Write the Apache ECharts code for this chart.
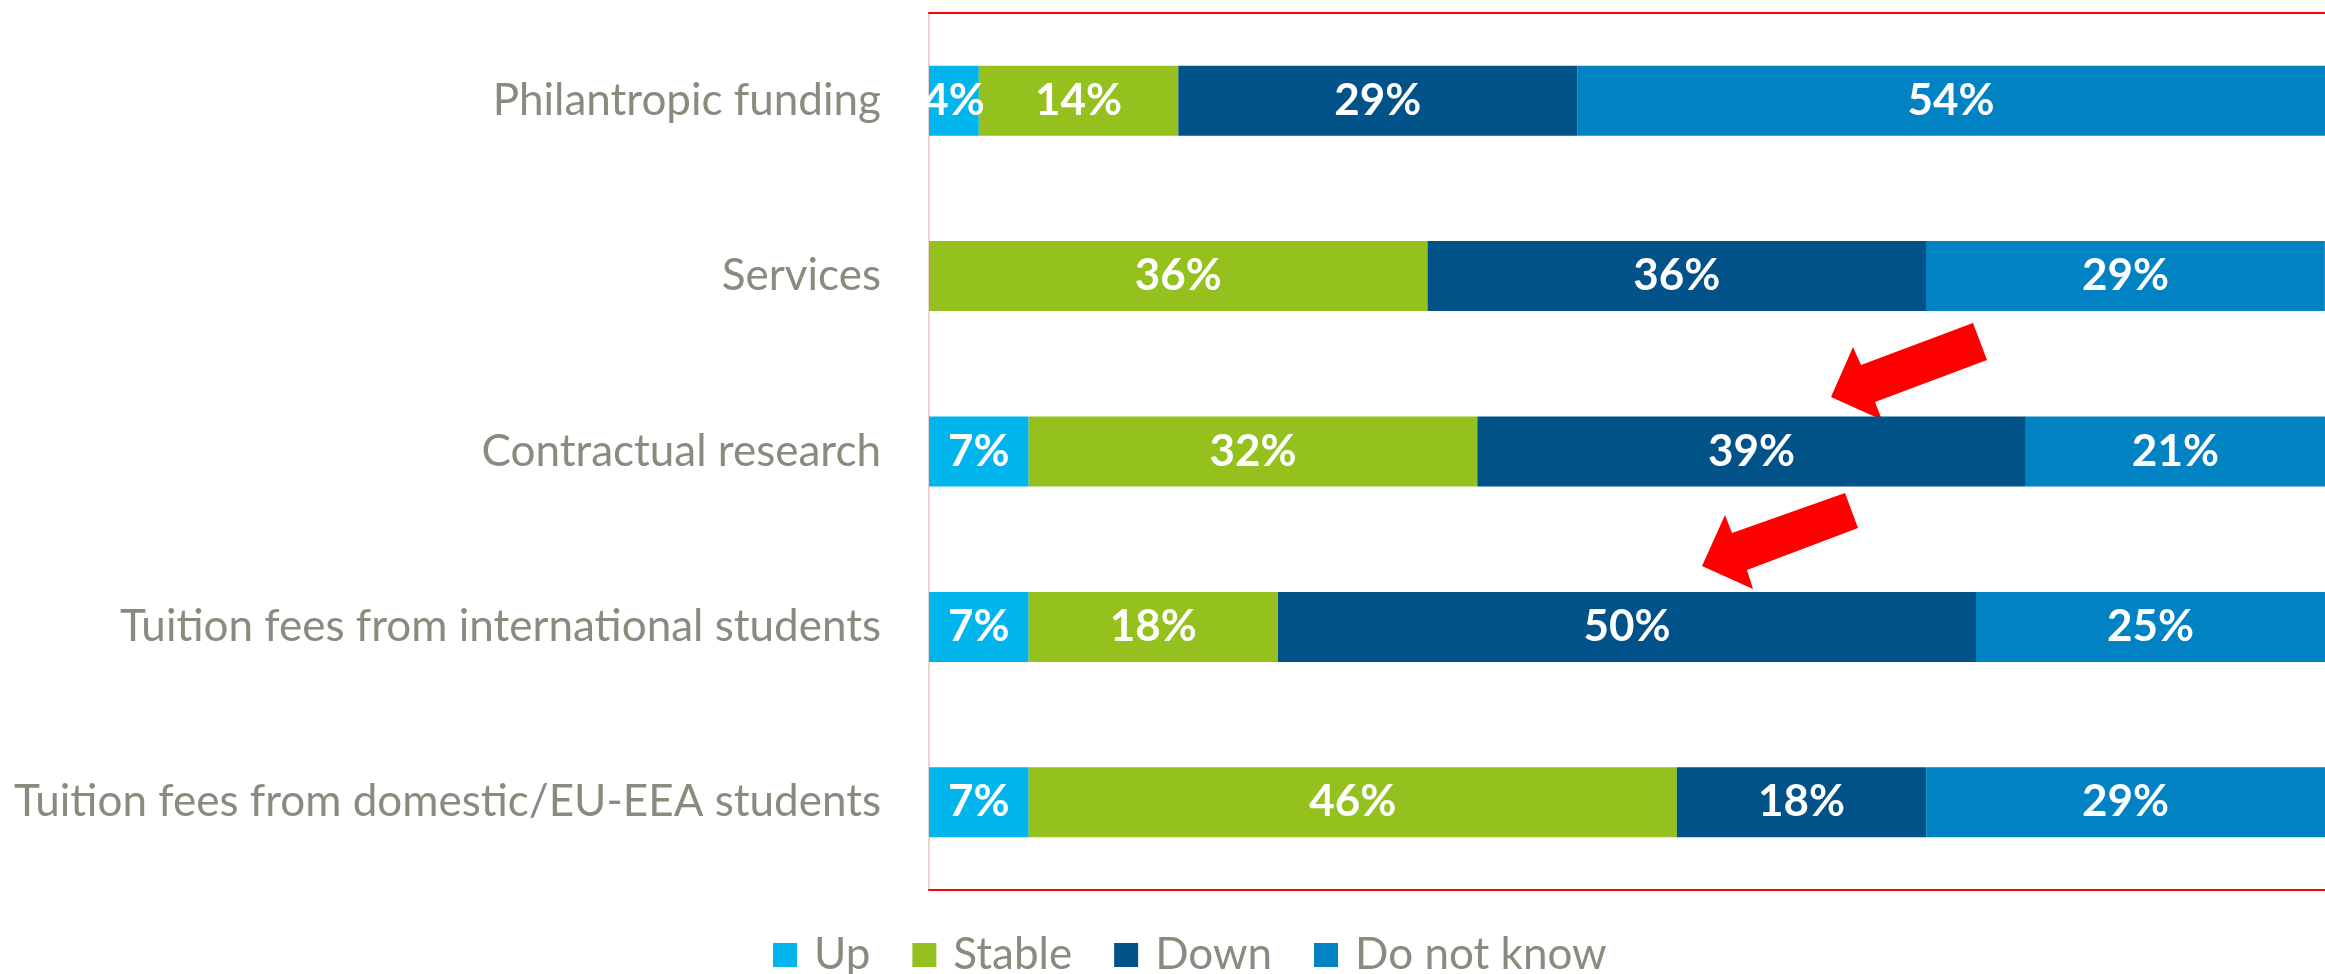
<!DOCTYPE html>
<html>
<head>
<meta charset="utf-8">
<script src="https://cdn.jsdelivr.net/npm/echarts@6/dist/echarts.min.js"></script>
<style>
html,body{margin:0;padding:0;background:#fff;}
#chart{width:2325px;height:974px;}
</style>
</head>
<body>
<div id="chart"></div>
<script>
const categories = [
  'Philantropic funding',
  'Services',
  'Contractual research',
  'Tuition fees from international students',
  'Tuition fees from domestic/EU-EEA students'
];
const seriesNames = ['Up', 'Stable', 'Down', 'Do not know'];
const upValues     = [3.57, 0, 7.14, 7.14, 7.14];
const stableValues = [14.29, 35.71, 32.14, 17.86, 46.43];
const downValues   = [28.57, 35.71, 39.29, 50.0, 17.86];
const dnkValues    = [53.57, 28.57, 21.43, 25.0, 28.57];
const colors = ['#00b5ec', '#95c11f', '#005288', '#0082c3'];

const FONT = 'Lato, "Open Sans", sans-serif';
const GRAY = '#8c8a7e';

const chart = echarts.init(document.getElementById('chart'));
const allValues = [upValues, stableValues, downValues, dnkValues];

const series = seriesNames.map((name, i) => ({
  name: name,
  type: 'bar',
  stack: 'total',
  barWidth: 70,
  data: allValues[i],
  itemStyle: { color: colors[i] },
  label: {
    show: true,
    position: 'inside',
    color: '#ffffff',
    fontFamily: FONT,
    fontWeight: 'bold',
    fontSize: 44,
    formatter: p => p.value > 0 ? Math.round(p.value) + '%' : ''
  }
}));

chart.setOption({
  animation: false,
  backgroundColor: '#ffffff',
  grid: { left: 929, right: 0, top: 13, bottom: 84, containLabel: false },
  xAxis: [
    {
      type: 'value', min: 0, max: 100, position: 'bottom',
      axisLine: { show: true, lineStyle: { color: '#ff0000', width: 2 } },
      axisTick: { show: false }, axisLabel: { show: false }, splitLine: { show: false }
    },
    {
      type: 'value', min: 0, max: 100, position: 'top',
      axisLine: { show: true, lineStyle: { color: '#ff0000', width: 2 } },
      axisTick: { show: false }, axisLabel: { show: false }, splitLine: { show: false }
    }
  ],
  yAxis: {
    type: 'category',
    inverse: true,
    data: categories,
    axisLine: { show: true, lineStyle: { color: '#f0d2d2', width: 2 } },
    axisTick: { show: false },
    axisLabel: { color: GRAY, fontFamily: FONT, fontSize: 44, margin: 48 }
  },
  legend: {
    data: seriesNames,
    left: 768,
    top: 928,
    icon: 'rect',
    itemWidth: 24,
    itemHeight: 24,
    itemGap: 42,
    textStyle: { color: GRAY, fontFamily: FONT, fontSize: 44, padding: [0, 0, 0, 12] }
  },
  series: series,
  graphic: [
    {
      type: 'polygon',
      shape: { points: [[1973,323],[1987,360],[1875,402],[1882,420],[1831,397],[1853,347],[1861,365]] },
      style: { fill: '#ff0000' }
    },
    {
      type: 'polygon',
      shape: { points: [[1845,493],[1858,528],[1747,570],[1753,589],[1702,566],[1725,515],[1732,533]] },
      style: { fill: '#ff0000' }
    }
  ]
});
</script>
</body>
</html>
